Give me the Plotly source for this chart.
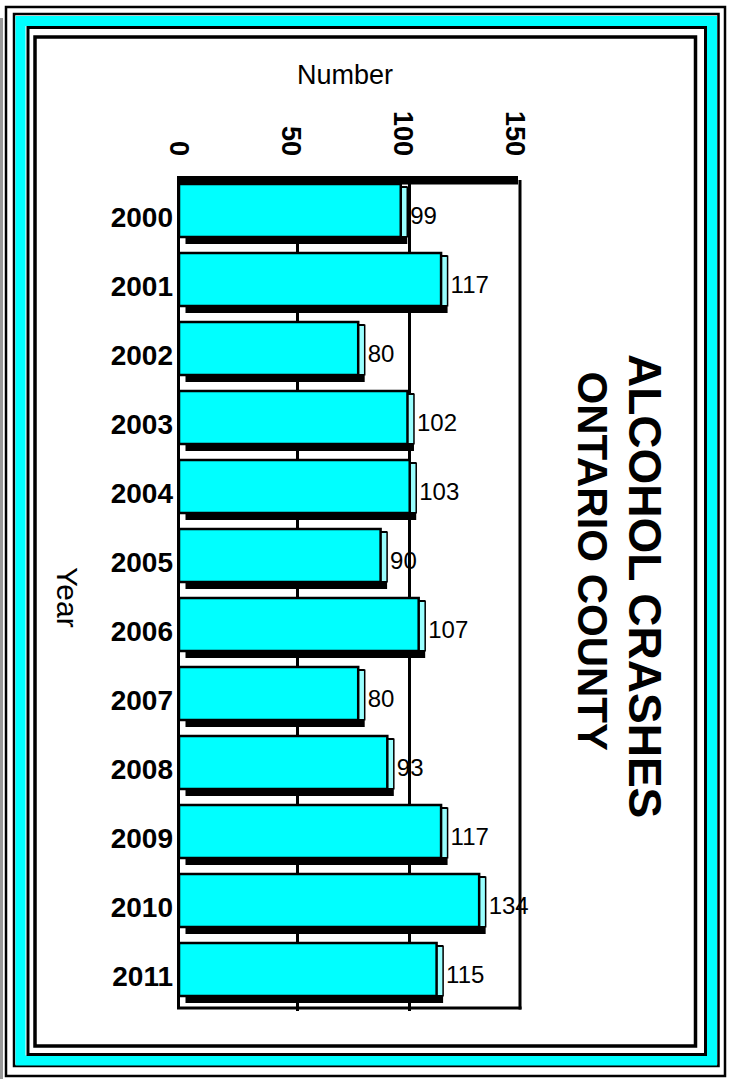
import plotly.graph_objects as go

# ---------------- data ----------------
years = ["2000", "2001", "2002", "2003", "2004", "2005",
         "2006", "2007", "2008", "2009", "2010", "2011"]
crashes = [99, 117, 80, 102, 103, 90, 107, 80, 93, 117, 134, 115]
x_ticks = [0, 50, 100, 150]
grid_ticks = [50, 100]
title_line1 = "ALCOHOL CRASHES"
title_line2 = "ONTARIO COUNTY"
x_title = "Number"
y_title = "Year"

# ---------------- geometry (pixels) ----------------
W, H = 730, 1079
PL, PR, PT, PB = 179, 520, 183, 1011   # plot area box
PX_PER_UNIT = 2.24
DEPTH_PX = 6.5

x_max = (PR - PL) / PX_PER_UNIT
shift = DEPTH_PX / PX_PER_UNIT


def fx(px):
    return (px - PL) / (PR - PL)


def fy(py):
    return (PB - py) / (PB - PT)


FONT = "Liberation Sans, Arial, sans-serif"
CYAN = "#00FFFF"
SIDE = "#99FFFF"

fig = go.Figure()

# back (depth) face - black, carries the value labels
fig.add_trace(go.Bar(
    y=years, x=crashes, orientation="h", xaxis="x", yaxis="y",
    marker=dict(color="black", line=dict(width=0)),
    offset=-0.455, width=0.838,
    text=crashes, textposition="outside", textangle=0, cliponaxis=False,
    outsidetextfont=dict(family=FONT, size=24, color="black"),
    hoverinfo="skip", showlegend=False,
))
# side face - light cyan
fig.add_trace(go.Bar(
    y=years, x=crashes, orientation="h", xaxis="x", yaxis="y",
    marker=dict(color=SIDE, line=dict(color="black", width=1.5)),
    offset=-0.44, width=0.72,
    hoverinfo="skip", showlegend=False,
))
# front face - cyan
fig.add_trace(go.Bar(
    y=years, x=crashes, orientation="h", xaxis="x2", yaxis="y",
    marker=dict(color=CYAN, line=dict(color="black", width=2.5)),
    offset=-0.486, width=0.769,
    hoverinfo="skip", showlegend=False,
))

shapes = []


def rect(l, t, r, b, color, w, fill=None):
    d = dict(type="rect", xref="paper", yref="paper",
             x0=fx(l), x1=fx(r), y0=fy(b), y1=fy(t),
             line=dict(color=color, width=w), layer="below")
    if fill:
        d["fillcolor"] = fill
    return d


def line(x0, y0, x1, y1, color, w, layer="above"):
    return dict(type="line", xref="paper", yref="paper",
                x0=fx(x0), x1=fx(x1), y0=fy(y0), y1=fy(y1),
                line=dict(color=color, width=w), layer=layer)


# decorative frames
shapes.append(line(1.5, 18, 1.5, 1079, "#999999", 3, "below"))
shapes.append(rect(6, 7, 725, 1076, "black", 2.5))
shapes.append(rect(14, 14, 718.5, 1066, "black", 2.5))
shapes.append(rect(20.5, 21, 712, 1060.5, CYAN, 10))
shapes.append(rect(28, 27.5, 705.5, 1054.5, "black", 3))
shapes.append(rect(35, 37, 695.5, 1046, "black", 3.5))

# plot box
shapes.append(dict(type="rect", xref="paper", yref="paper",
                   x0=fx(178), x1=fx(518), y0=fy(184.5), y1=fy(176),
                   fillcolor="black", line=dict(width=0), layer="above"))
shapes.append(line(178.5, 176, 178.5, 1009, "black", 3))
shapes.append(line(520, 180, 520, 1009.5, "black", 3))
shapes.append(line(177, 1008, 521.5, 1008, "black", 3))

annotations = [
    dict(text=x_title, xref="paper", yref="paper", x=fx(345), y=fy(75),
         xanchor="center", yanchor="middle", showarrow=False,
         font=dict(family=FONT, size=27, color="black")),
    dict(text=y_title, xref="paper", yref="paper", x=fx(68), y=fy(597),
         xanchor="center", yanchor="middle", showarrow=False, textangle=90,
         font=dict(family=FONT, size=30, color="black")),
    dict(text="<b>" + title_line1 + "</b>", xref="paper", yref="paper",
         x=fx(645.5), y=fy(585.5),
         xanchor="center", yanchor="middle", showarrow=False, textangle=90,
         font=dict(family=FONT, size=46, color="black", weight="bold")),
    dict(text="<b>" + title_line2 + "</b>", xref="paper", yref="paper",
         x=fx(592), y=fy(561.5),
         xanchor="center", yanchor="middle", showarrow=False, textangle=90,
         font=dict(family=FONT, size=42, color="black", weight="bold")),
]

fig.update_layout(
    width=W, height=H,
    margin=dict(l=PL, r=W - PR, t=PT, b=H - PB, pad=0, autoexpand=False),
    paper_bgcolor="white", plot_bgcolor="white",
    barmode="overlay", showlegend=False,
    xaxis=dict(range=[-shift, x_max - shift], side="top", anchor="y",
               showticklabels=False, tickvals=grid_ticks, ticks="",
               showgrid=True, gridcolor="black", gridwidth=2.5,
               zeroline=False, showline=False, fixedrange=True),
    xaxis2=dict(range=[0, x_max], overlaying="x", side="top", anchor="y",
                tickvals=x_ticks, tickangle=90, ticks="",
                tickfont=dict(family=FONT, size=27, color="black", weight="bold"),
                ticklabelstandoff=22,
                showgrid=False, zeroline=False, showline=False, fixedrange=True),
    yaxis=dict(type="category", categoryorder="array", categoryarray=years,
               range=[len(years) - 0.5, -0.5], ticks="",
               tickfont=dict(family=FONT, size=28, color="black", weight="bold"),
               ticklabelstandoff=5,
               showgrid=False, zeroline=False, showline=False, fixedrange=True),
    shapes=shapes,
    annotations=annotations,
)

fig.write_html("out.html",
               config=dict(displayModeBar=False, staticPlot=True),
               post_script="document.body.style.margin='0';document.body.style.overflow='hidden';")
